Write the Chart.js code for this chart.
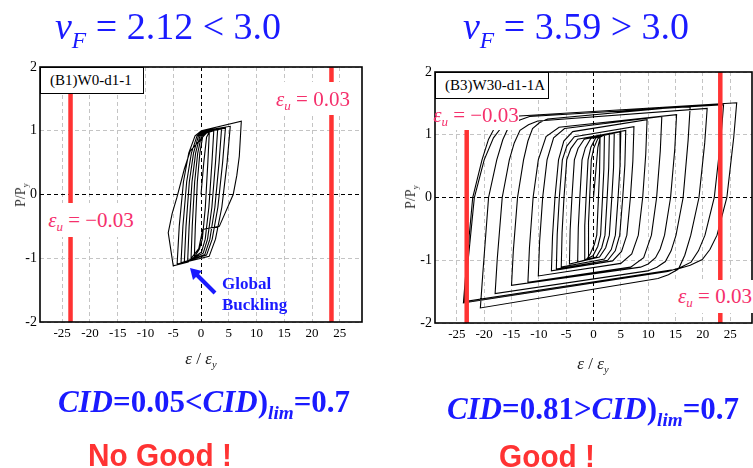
<!DOCTYPE html>
<html>
<head>
<meta charset="utf-8">
<script src="https://cdn.jsdelivr.net/npm/chart.js@4.4.1/dist/chart.umd.min.js"></script>
<style>
  html, body { margin: 0; padding: 0; background: #fff; }
  #page { position: relative; width: 753px; height: 468px; overflow: hidden; background: #fff;
          font-family: "Times New Roman", "Liberation Serif", serif; }
  .abs { position: absolute; white-space: nowrap; }
  .ctr { transform: translate(-50%, -50%); line-height: 1; }
  .gk { display: inline-block; font-style: italic; }
  .sb { font-size: 0.62em; vertical-align: -0.38em; line-height: 0; }
  .title { font-size: 38px; color: #1a1aff; line-height: 1; transform: translateX(-50%); }
  .eps { font-size: 21px; color: #f5306c; }
  .tag { background: #fff; border: 1.5px solid #000; box-sizing: border-box; font-size: 15px;
         line-height: 24px; padding-left: 9px; color: #000; }
  .mask { background: #fff; }
  .xlab { font-size: 17px; color: #222; }
  .ylab { font-size: 14px; color: #333; transform: translate(-50%, -50%) rotate(-90deg); line-height: 1; }
  .cid { font-size: 31px; font-weight: bold; color: #1a1aff; }
  .verdict { font-family: "Liberation Sans", Arial, sans-serif; font-weight: bold; font-size: 32px;
             color: #ff3333; line-height: 1; transform: translate(-50%, -50%) scaleX(0.93); }
  canvas { position: absolute; left: 0; top: 0; }
</style>
</head>
<body>
<div id="page">
  <div class="abs" style="left:0;top:0;width:376px;height:345px"><canvas id="chartB1" width="376" height="345"></canvas></div>
  <div class="abs" style="left:376px;top:0;width:377px;height:346px"><canvas id="chartB3" width="377" height="346"></canvas></div>

  <!-- headline slenderness values -->
  <div class="abs title" style="left:168px;top:7px"><span class="gk">ν</span><span class="sb"><i>F</i></span> = 2.12 &lt; 3.0</div>
  <div class="abs title" style="left:576px;top:7px"><span class="gk">ν</span><span class="sb"><i>F</i></span> = 3.59 &gt; 3.0</div>

  <!-- specimen tags -->
  <div class="abs tag" style="left:40px;top:67px;width:104px;height:27px">(B1)W0-d1-1</div>
  <div class="abs tag" style="left:435px;top:72px;width:114px;height:27px">(B3)W30-d1-1A</div>

  <!-- ultimate strain labels -->
  <div class="abs mask" style="left:46px;top:203px;width:92px;height:34px"></div>
  <div class="abs ctr eps" style="left:91px;top:220px"><span class="gk">ε</span><span class="sb"><i>u</i></span> = −0.03</div>
  <div class="abs mask" style="left:272px;top:82px;width:83px;height:33px"></div>
  <div class="abs ctr eps" style="left:313px;top:99px"><span class="gk">ε</span><span class="sb"><i>u</i></span> = 0.03</div>
  <div class="abs mask" style="left:437px;top:99px;width:82px;height:31px"></div>
  <div class="abs ctr eps" style="left:476px;top:115px"><span class="gk">ε</span><span class="sb"><i>u</i></span> = −0.03</div>
  <div class="abs mask" style="left:674px;top:280px;width:79px;height:33px"></div>
  <div class="abs ctr eps" style="left:715px;top:296px"><span class="gk">ε</span><span class="sb"><i>u</i></span> = 0.03</div>

  <!-- buckling note -->
  <svg class="abs" style="left:0;top:0" width="753" height="468">
    <line x1="215" y1="293" x2="197" y2="275" stroke="#1a1aff" stroke-width="4"/>
    <polygon points="190,268 202,271 193,280" fill="#1a1aff"/>
  </svg>
  <div class="abs" style="left:222px;top:273px;font-size:17px;font-weight:bold;line-height:21px;color:#1a1aff">Global<br>Buckling</div>

  <!-- axis titles -->
  <div class="abs ylab" style="left:21px;top:195px">P/P<span class="sb">y</span></div>
  <div class="abs ylab" style="left:411px;top:197px">P/P<span class="sb">y</span></div>
  <div class="abs ctr xlab" style="left:201px;top:358px"><span class="gk">ε</span> / <span class="gk">ε</span><span class="sb"><i>y</i></span></div>
  <div class="abs ctr xlab" style="left:593px;top:363px"><span class="gk">ε</span> / <span class="gk">ε</span><span class="sb"><i>y</i></span></div>

  <!-- cumulative inelastic deformation verdicts -->
  <div class="abs ctr cid" style="left:204px;top:401px"><i>CID</i>=0.05&lt;<i>CID</i>)<span class="sb"><i>lim</i></span>=0.7</div>
  <div class="abs ctr cid" style="left:593px;top:408px"><i>CID</i>=0.81&gt;<i>CID</i>)<span class="sb"><i>lim</i></span>=0.7</div>
  <div class="abs verdict" style="left:160px;top:455px">No Good !</div>
  <div class="abs verdict" style="left:547px;top:456px">Good !</div>
</div>

<script>
// Axis ranges and tick spacing shared by both panels
const strainRange = [-29, 29];
const loadRange = [-2, 2];
const strainStep = 5;
const loadStep = 1;

// Ultimate strain (eps_u = ±0.03) expressed as eps/eps_y for each specimen
const b1UltimateStrain = [-23.5, 23.5];
const b3UltimateStrain = [-23.2, 23.2];

// Specimen B1 (W0-d1-1): [eps/eps_y, P/Py] along the loading history
const b1Path = [
  [0,0],[0.5,0.5],[1.0,0.9],[1.5,0.98],
  [1.23,0.5],[0.78,-0.2],[0.24,-0.7],[-0.3,-0.86],[-1.2,-0.98],
  [-1.02,-0.5],[-0.66,0.2],[-0.21,0.65],[0.33,0.92],[0.87,0.96],[2.3,1.0],
  [1.97,0.5],[1.42,-0.2],[0.76,-0.7],[0.1,-0.9],[-1.8,-1.02],
  [-1.58,-0.5],[-1.14,0.2],[-0.59,0.65],[0.07,0.92],[0.73,0.97],[3.0,1.02],
  [2.61,0.5],[1.96,-0.2],[1.18,-0.7],[0.4,-0.92],[-2.4,-1.04],
  [-2.14,-0.5],[-1.62,0.2],[-0.97,0.65],[-0.19,0.92],[0.59,0.98],[3.7,1.03],
  [3.25,0.5],[2.5,-0.2],[1.6,-0.7],[0.7,-0.94],[-3.0,-1.06],
  [-2.7,-0.5],[-2.1,0.2],[-1.35,0.65],[-0.45,0.92],[0.45,0.99],[4.4,1.04],
  [3.89,0.5],[3.04,-0.2],[2.02,-0.7],[1.0,-0.95],[-3.6,-1.07],
  [-3.26,-0.5],[-2.58,0.2],[-1.73,0.65],[-0.71,0.92],[0.31,1.0],[5.27,1.07],
  [4.7,0.5],[3.75,-0.2],[2.61,-0.7],[1.47,-0.97],[-4.3,-1.09],
  [-3.92,-0.5],[-3.16,0.2],[-2.21,0.65],[-1.07,0.92],[0.07,1.0],[7.26,1.15],
  [6.9,0.6],[6.45,0.3],[5.8,0.0],[4.3,-0.3],[3.3,-0.5],[0.3,-0.55],[-0.4,-0.85],[-2.3,-1.06],[-5.0,-1.12],
  [-5.9,-0.6],[-5.2,-0.3],[-4.35,-0.05],[-3.0,0.4],[-1.95,0.68],[-0.14,0.86],[1.36,1.0]
];

// Specimen B3 (W30-d1-1A): [eps/eps_y, P/Py] along the loading history
const b3Path = [
  [0,0],[0.4,0.4],[0.8,0.8],[1.2,0.95],
  [1.11,0.40],[0.9,0],[0.6,-0.6],[0.15,-0.75],[-0.6,-0.90],[-1.0,-0.95],
  [-0.91,-0.40],[-0.7,0],[-0.4,0.6],[0.05,0.79],[0.8,0.94],[2.0,1.0],
  [1.9,0.45],[1.65,0],[1.3,-0.6],[0.78,-0.78],[-0.1,-0.93],[-1.7,-1.0],
  [-1.6,-0.45],[-1.35,0],[-1.0,0.6],[-0.48,0.8],[0.4,0.95],[2.9,1.02],
  [2.78,0.47],[2.5,0],[2.1,-0.6],[1.5,-0.8],[0.5,-0.95],[-2.9,-1.03],
  [-2.78,-0.48],[-2.5,0],[-2.1,0.6],[-1.5,0.79],[-0.5,0.94],[3.8,1.03],
  [3.67,0.48],[3.35,0],[2.9,-0.6],[2.23,-0.8],[1.1,-0.95],[-4.4,-1.06],
  [-4.27,-0.51],[-3.95,0],[-3.5,0.6],[-2.83,0.78],[-1.7,0.93],[5.0,1.05],
  [4.85,0.5],[4.5,0],[4.0,-0.6],[3.25,-0.83],[2.0,-0.98],[-5.9,-1.11],
  [-5.75,-0.56],[-5.4,0],[-4.9,0.6],[-4.15,0.78],[-2.9,0.93],[5.9,1.07],
  [5.74,0.52],[5.35,0],[4.8,-0.6],[3.98,-0.85],[2.6,-1.0],[-6.8,-1.14],
  [-6.64,-0.59],[-6.25,0],[-5.7,0.6],[-4.88,0.82],[-3.5,0.97],[7.4,1.13],
  [7.2,0.58],[6.75,0],[6.1,-0.6],[5.13,-0.86],[3.5,-1.01],[-7.7,-1.17],
  [-7.5,-0.62],[-7.05,0],[-6.4,0.6],[-5.43,0.9],[-3.8,1.05],[9.8,1.24],
  [9.56,0.69],[9.0,0],[8.2,-0.6],[7.0,-0.9],[5.0,-1.05],[-10.1,-1.25],
  [-9.86,-0.7],[-9.3,0],[-8.5,0.6],[-7.3,0.95],[-5.3,1.10],[12.5,1.29],
  [12.22,0.74],[11.55,0],[10.6,-0.6],[9.18,-0.96],[6.8,-1.11],[-12.0,-1.35],
  [-11.72,-0.8],[-11.05,0],[-10.1,0.6],[-8.68,0.97],[-6.3,1.12],[15.2,1.32],
  [14.87,0.77],[14.1,0],[13.0,-0.6],[12.2,-0.82],[11.35,-0.96],[10.0,-1.06],[8.6,-1.11],[-15.0,-1.40],
  [-14.67,-0.85],[-13.9,0],[-12.8,0.6],[-12.0,0.9],[-11.15,1.10],[-9.9,1.19],[-8.4,1.25],[17.7,1.46],
  [17.31,0.91],[16.4,0],[15.1,-0.6],[14.2,-0.85],[13.15,-1.02],[11.6,-1.11],[9.9,-1.17],[-18.0,-1.53],
  [-17.61,-0.98],[-16.7,0],[-15.4,0.6],[-14.5,0.87],[-13.45,1.07],[-11.9,1.16],[-10.2,1.22],[20.8,1.42],
  [20.35,0.87],[19.3,0],[17.8,-0.6],[16.7,-0.92],[15.55,-1.14],[13.7,-1.23],[11.8,-1.29],[-20.7,-1.76],
  [-20.25,-1.21],[-19.2,0],[-17.7,0.6],[-16.6,0.92],[-15.45,1.14],[-13.6,1.23],[-11.7,1.29],[23.8,1.48],
  [23.29,0.93],[22.1,0],[20.4,-0.6],[19.2,-0.85],[17.85,-1.03],[15.8,-1.12],[13.6,-1.18],[-23.8,-1.68],
  [-23.29,-1.13],[-22.1,0],[-20.4,0.6],[-19.2,0.93],[-17.85,1.15],[-15.8,1.24],[-13.6,1.30],[26.2,1.51],
  [25.66,0.96],[24.4,0],[22.6,-0.6],[21.3,-0.83],[19.9,-0.99],[17.7,-1.08],[15.4,-1.14],[-23.6,-1.66],
  [-23.06,-1.11],[-21.8,0],[-20.0,0.6],[-18.3,0.95],[-17.0,1.1]
];

// Closed frame around the plotting area
const framePlugin = {
  id: 'frame',
  afterDatasetsDraw(chart) {
    const { ctx, chartArea: a } = chart;
    ctx.save();
    ctx.strokeStyle = '#000';
    ctx.lineWidth = 1.6;
    ctx.strokeRect(a.left, a.top, a.right - a.left, a.bottom - a.top);
    ctx.restore();
  }
};

function buildChart(canvasId, path, limits, layout) {
  const serif = "'Times New Roman', 'Liberation Serif', serif";
  const gridColor = c => (c.tick && c.tick.value === 0) ? '#000' : '#c4c4c4';
  return new Chart(document.getElementById(canvasId), {
    type: 'scatter',
    data: {
      datasets: [
        {
          data: path.map(([x, y]) => ({ x, y })),
          showLine: true, borderColor: '#000', borderWidth: 1.1,
          pointRadius: 0, tension: 0, order: 1
        },
        ...limits.map(x => ({
          data: [{ x, y: loadRange[0] }, { x, y: loadRange[1] }],
          showLine: true, borderColor: '#ff3333', borderWidth: 4.5,
          pointRadius: 0, order: 0
        }))
      ]
    },
    options: {
      responsive: false,
      animation: false,
      events: [],
      layout: { padding: layout.padding },
      plugins: { legend: { display: false }, tooltip: { enabled: false } },
      scales: {
        x: {
          type: 'linear', min: strainRange[0], max: strainRange[1],
          afterFit: s => { s.height = layout.xAxisHeight; },
          ticks: { stepSize: strainStep, includeBounds: false, autoSkip: false, maxRotation: 0,
                   padding: 4, color: '#000', font: { family: serif, size: 13 } },
          grid: { color: gridColor, lineWidth: 1, drawTicks: false },
          border: { display: false, dash: [4, 3] }
        },
        y: {
          type: 'linear', min: loadRange[0], max: loadRange[1],
          afterFit: s => { s.width = layout.yAxisWidth; },
          ticks: { stepSize: loadStep, includeBounds: false, autoSkip: false,
                   padding: 3, color: '#000', font: { family: serif, size: 14 } },
          grid: { color: gridColor, lineWidth: 1, drawTicks: false },
          border: { display: false, dash: [4, 3] }
        }
      }
    },
    plugins: [framePlugin]
  });
}

buildChart('chartB1', b1Path, b1UltimateStrain,
  { padding: { left: 0, right: 14, top: 67, bottom: 0 }, xAxisHeight: 23, yAxisWidth: 40 });
buildChart('chartB3', b3Path, b3UltimateStrain,
  { padding: { left: 0, right: 1, top: 72, bottom: 0 }, xAxisHeight: 23, yAxisWidth: 59 });
</script>
</body>
</html>
